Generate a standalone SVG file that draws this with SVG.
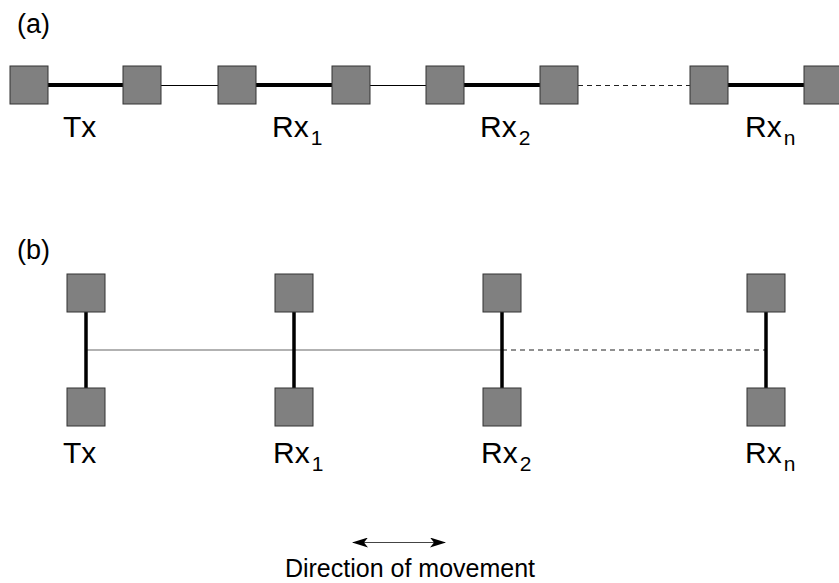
<svg xmlns="http://www.w3.org/2000/svg" width="839" height="583" viewBox="0 0 839 583">
<style>
.sq{fill:#808080;stroke:#333;stroke-width:1}
.thick{stroke:#000;stroke-width:4;fill:none}
.vthick{stroke:#000;stroke-width:3.5;fill:none}
.thin{stroke:#000;stroke-width:1;fill:none}
.thing{stroke:#666;stroke-width:1.2;fill:none}
.dash{stroke:#222;stroke-width:1.2;stroke-dasharray:5,4;fill:none}
text{font-family:"Liberation Sans",Arial,sans-serif;fill:#000}
.lbl{font-size:30px}
.sub{font-size:21px}
.pl{font-size:27px}
</style>
<defs>
<marker id="ah" viewBox="0 0 16 10" refX="15" refY="5" markerWidth="16" markerHeight="10" markerUnits="userSpaceOnUse" orient="auto-start-reverse">
<path d="M0,0 L16,5 L0,10 L4,5 Z" fill="#000"/>
</marker>
</defs>
<rect width="839" height="583" fill="#fff"/>
<text class="pl" x="17" y="33">(a)</text>
<text class="pl" x="17" y="259">(b)</text>
<g id="connectors">
<line class="thick" x1="48" y1="85" x2="123" y2="85"/>
<line class="thin" x1="161" y1="85.5" x2="218" y2="85.5"/>
<line class="thick" x1="256" y1="85" x2="332" y2="85"/>
<line class="thin" x1="370" y1="85.5" x2="426" y2="85.5"/>
<line class="thick" x1="464" y1="85" x2="540" y2="85"/>
<line class="dash" x1="578" y1="85.5" x2="690" y2="85.5"/>
<line class="thick" x1="728" y1="85" x2="804" y2="85"/>
<line class="thing" x1="86" y1="350" x2="502" y2="350"/>
<line class="dash" x1="502" y1="350" x2="766" y2="350"/>
<line class="vthick" x1="86" y1="312" x2="86" y2="388"/>
<line class="vthick" x1="294" y1="312" x2="294" y2="388"/>
<line class="vthick" x1="502" y1="312" x2="502" y2="388"/>
<line class="vthick" x1="766" y1="312" x2="766" y2="388"/>
<line stroke="#444" stroke-width="1.2" x1="353" y1="542.5" x2="445" y2="542.5" marker-start="url(#ah)" marker-end="url(#ah)"/>
</g>
<g id="a-tx">
<rect class="sq" x="10" y="66" width="38" height="38"/>
<rect class="sq" x="123" y="66" width="38" height="38"/>
<text class="lbl" x="63" y="137">Tx</text>
</g>
<g id="a-rx1">
<rect class="sq" x="218" y="66" width="38" height="38"/>
<rect class="sq" x="332" y="66" width="38" height="38"/>
<text class="lbl" x="272" y="137">Rx<tspan class="sub" dx="2" dy="8">1</tspan></text>
</g>
<g id="a-rx2">
<rect class="sq" x="426" y="66" width="38" height="38"/>
<rect class="sq" x="540" y="66" width="38" height="38"/>
<text class="lbl" x="480" y="137">Rx<tspan class="sub" dx="2" dy="8">2</tspan></text>
</g>
<g id="a-rxn">
<rect class="sq" x="690" y="66" width="38" height="38"/>
<rect class="sq" x="804" y="66" width="38" height="38"/>
<text class="lbl" x="745" y="137">Rx<tspan class="sub" dx="2" dy="8">n</tspan></text>
</g>
<g id="b-tx">
<rect class="sq" x="67" y="274" width="38" height="38"/>
<rect class="sq" x="67" y="388" width="38" height="38"/>
<text class="lbl" x="63" y="463">Tx</text>
</g>
<g id="b-rx1">
<rect class="sq" x="275" y="274" width="38" height="38"/>
<rect class="sq" x="275" y="388" width="38" height="38"/>
<text class="lbl" x="273" y="463">Rx<tspan class="sub" dx="2" dy="8">1</tspan></text>
</g>
<g id="b-rx2">
<rect class="sq" x="483" y="274" width="38" height="38"/>
<rect class="sq" x="483" y="388" width="38" height="38"/>
<text class="lbl" x="481" y="463">Rx<tspan class="sub" dx="2" dy="8">2</tspan></text>
</g>
<g id="b-rxn">
<rect class="sq" x="747" y="274" width="38" height="38"/>
<rect class="sq" x="747" y="388" width="38" height="38"/>
<text class="lbl" x="745" y="463">Rx<tspan class="sub" dx="2" dy="8">n</tspan></text>
</g>
<text x="410" y="577" text-anchor="middle" font-size="25">Direction of movement</text>
</svg>
